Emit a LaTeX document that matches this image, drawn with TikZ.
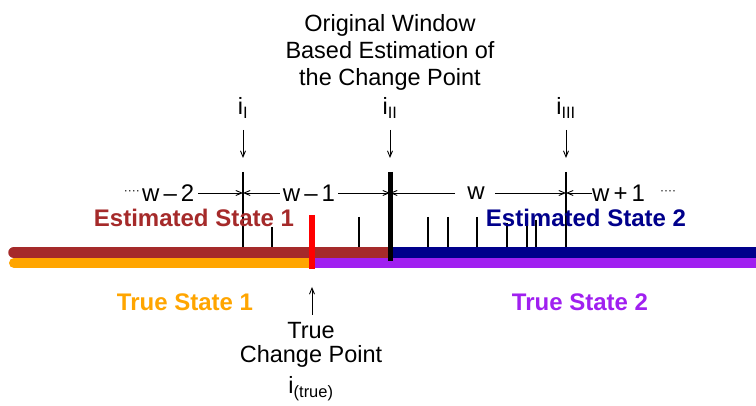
\documentclass[tikz,border=0pt]{standalone}
\usepackage{fontspec}
\setmainfont{Liberation Sans}
\usetikzlibrary{arrows.meta}
\definecolor{ebrown}{HTML}{A52A2A}
\definecolor{enavy}{HTML}{00008B}
\definecolor{torange}{HTML}{FFA500}
\definecolor{tpurple}{HTML}{A020F0}
\tikzset{
  lbl/.style={inner sep=0pt, font=\fontsize{23.5}{27}\selectfont, align=center},
  wlbl/.style={inner sep=0pt, font=\fontsize{24}{27}\selectfont},
  state/.style={inner sep=0pt, font=\bfseries\fontsize{24}{27}\selectfont},
  thin tick/.style={line width=1.3pt},
  ptr/.style={line width=0.9pt, -{Straight Barb[length=6pt,width=5pt]}},
  dim/.style={line width=0.9pt, -{Straight Barb[length=6pt,width=5pt]}},
  dots/.style={inner sep=0pt, font=\fontsize{12}{14}\selectfont}
}
\begin{document}
\begin{tikzpicture}[x=1pt,y=-1pt]
\useasboundingbox (0,0) rectangle (756,406);
% bars
\draw[torange, line width=10pt, line cap=round] (14,263) -- (312,263);
\draw[tpurple, line width=10pt] (312,263) -- (760,263);
\draw[ebrown, line width=11.5pt, line cap=round] (14,252.5) -- (390,252.5);
\draw[enavy, line width=11.5pt] (390,252.5) -- (760,252.5);
% small ticks
\foreach \x/\t in {272/227, 359/217, 428/217, 448/217, 477/217, 507/223, 527/220, 536/220}
  \draw[thin tick] (\x,\t) -- (\x,247);
% main ticks
\coordinate (tI) at (243,172);
\coordinate (tIII) at (566,172);
\coordinate (tII) at (390,172);
\draw[thin tick] (tI) -- (243,247);
\draw[thin tick] (tIII) -- (566,247);
\draw[line width=5pt] (tII) -- (390,261);
\draw[red, line width=6pt] (312,215) -- (312,269);
% state labels
\node[state, text=ebrown] (es1) at (194,218) {Estimated State 1};
\node[state, text=enavy] (es2) at (586,218) {Estimated State 2};
\node[state, text=torange] (ts1) at (185,302) {True State 1};
\node[state, text=tpurple] (ts2) at (580,302) {True State 2};
% title
\node[lbl] (title) at (390,52) {Original Window\\Based Estimation of\\the Change Point};
% i labels
\node[lbl] (iI) at (243,108) {i\textsubscript{I}};
\node[lbl] (iII) at (390,108) {i\textsubscript{II}};
\node[lbl] (iIII) at (566,108) {i\textsubscript{III}};
\coordinate (aI) at (243,130); \coordinate (bI) at (243,158);
\coordinate (aII) at (390,130); \coordinate (bII) at (390,158);
\coordinate (aIII) at (566,130); \coordinate (bIII) at (566,158);
\draw[ptr] (aI) -- (bI);
\draw[ptr] (aII) -- (bII);
\draw[ptr] (aIII) -- (bIII);
% dimension labels
\coordinate (dI) at (243,193);
\coordinate (dII) at (390,193);
\coordinate (dIII) at (566,193);
\node[dots, anchor=east] (ld) at (140,193) {····};
\node[wlbl, anchor=west] (w2) at (142,193) {w\,–\,2};
\node[wlbl] (w1) at (309,193) {w\,–\,1};
\node[wlbl] (w0) at (476,193) {w};
\node[wlbl, anchor=west] (w3) at (592,193) {w\,+\,1};
\node[dots, anchor=west] (rd) at (660,193) {····};
\draw[dim] (w2.east) ++(4,0) -- (dI);
\draw[dim] (w1.west) ++(-3,0) -- (dI);
\draw[dim] (w1.east) ++(3,0) -- (dII);
\draw[dim] (w0.west) ++(-12,0) -- (dII);
\draw[dim] (w0.east) ++(10,0) -- (dIII);
\draw[dim] (w3.west) -- (dIII);
% true change point
\node[lbl] (tcp) at (311,345) {True\\[-3pt]Change Point};
\node[lbl] (itrue) at (311,389) {i\textsubscript{(true)}};
\coordinate (up0) at (312,315);
\coordinate (up1) at (312,287);
\draw[ptr] (up0) -- (up1);
\end{tikzpicture}
\end{document}
